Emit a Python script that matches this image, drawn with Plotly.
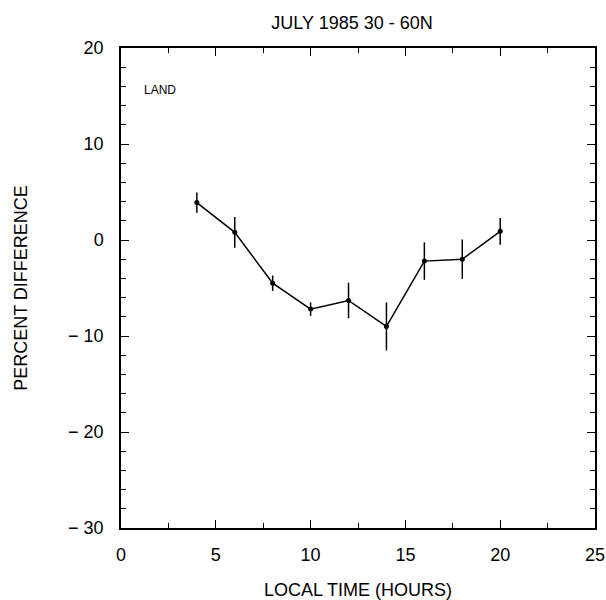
import plotly.graph_objects as go

local_time = [4, 6, 8, 10, 12, 14, 16, 18, 20]
percent_diff = [3.9, 0.8, -4.5, -7.2, -6.3, -9.0, -2.2, -2.0, 0.9]
error = [1.05, 1.6, 0.8, 0.7, 1.85, 2.5, 1.95, 2.05, 1.4]

x_ticks = [0, 5, 10, 15, 20, 25]
y_ticks = [-30, -20, -10, 0, 10, 20]
y_tick_text = ["\u2212 30", "\u2212 20", "\u2212 10", "0", "10", "20"]

font = "Liberation Sans, Arial, sans-serif"

fig = go.Figure()
fig.add_trace(go.Scatter(
    x=local_time, y=percent_diff,
    mode="lines+markers",
    line=dict(color="black", width=1.5),
    marker=dict(color="black", size=5),
    error_y=dict(type="data", array=error, visible=True, color="black",
                 thickness=1.5, width=0),
    showlegend=False,
))

fig.add_annotation(x=1.1, y=15.6, text="LAND", showarrow=False,
                   xanchor="left", yanchor="middle",
                   font=dict(family=font, size=12, color="black"))

axis_common = dict(
    showgrid=False, zeroline=False, showline=True, linecolor="black",
    linewidth=1.5, mirror="ticks", ticks="inside", tickcolor="black",
    ticklen=8, tickwidth=1.2, automargin=False,
    tickfont=dict(family=font, size=18, color="black"),
)

fig.update_xaxes(
    range=[0, 25], tickvals=x_ticks, ticklabelstandoff=10,
    minor=dict(ticks="inside", dtick=2.5, ticklen=5, tickcolor="black", tickwidth=1),
    title=dict(text="LOCAL TIME (HOURS)", font=dict(family=font, size=18, color="black"),
               standoff=20),
    **axis_common,
)
fig.update_yaxes(
    range=[-30, 20], tickvals=y_ticks, ticktext=y_tick_text, ticklabelstandoff=12,
    minor=dict(ticks="inside", dtick=2, ticklen=5, tickcolor="black", tickwidth=1),
    title=dict(text="PERCENT DIFFERENCE", font=dict(family=font, size=18, color="black"),
               standoff=36),
    **axis_common,
)

fig.update_layout(
    width=606, height=600,
    margin=dict(l=121, r=11, t=48, b=72, autoexpand=False),
    paper_bgcolor="white", plot_bgcolor="white",
    title=dict(text="JULY 1985 30 - 60N", x=0.581, xanchor="center", y=0.963,
               yanchor="middle", font=dict(family=font, size=18, color="black")),
)

fig.write_html("out.html")
